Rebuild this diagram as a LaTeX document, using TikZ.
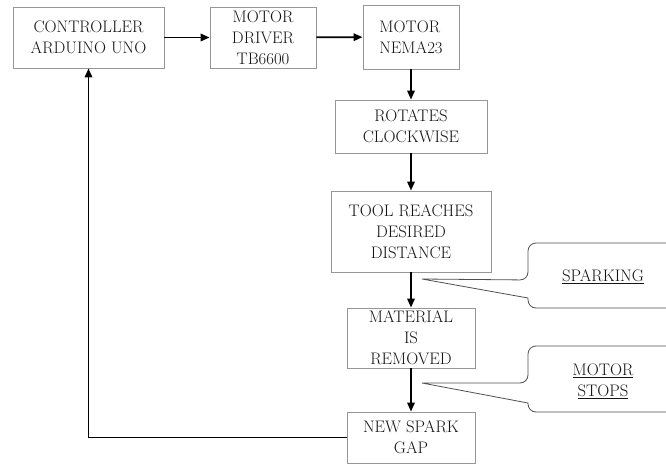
\documentclass[tikz,border=0pt]{standalone}
\usepackage{xcolor}
\usetikzlibrary{arrows.meta, positioning}
\definecolor{boxgray}{RGB}{150,150,150}
\definecolor{inkdark}{RGB}{20,20,20}

\begin{document}
\begin{tikzpicture}[x=1pt, y=-1pt, font={\fontsize{16.7}{21}\selectfont}, text=inkdark,
  box/.style={draw=boxgray, line width=0.9pt, inner sep=2pt, align=center},
  arr/.style={-{Triangle[length=9pt, width=7.5pt]}, line width=1.8pt},
  callout/.style={draw=inkdark!75, line width=0.8pt, rounded corners=8pt}]
  \clip (0,0) rectangle (666,465);
  \node[box, minimum width=151pt, minimum height=61pt] (ctrl) at (88.5,37.5) {CONTROLLER\\ARDUINO UNO};
  \node[box, minimum width=106pt, minimum height=61pt] (drv)  at (263,37.5)  {MOTOR\\DRIVER\\TB6600};
  \node[box, minimum width=96pt,  minimum height=64pt, align=left] (mot) at (411,37) {MOTOR\\NEMA23};
  \node[box, minimum width=152pt, minimum height=53pt] (rot)  at (411,126.5) {ROTATES\\CLOCKWISE};
  \node[box, minimum width=160pt, minimum height=81pt] (tool) at (411,231.5) {TOOL REACHES\\DESIRED\\DISTANCE};
  \node[box, minimum width=128pt, minimum height=60pt] (mat)  at (411,338)   {MATERIAL\\IS\\REMOVED};
  \node[box, minimum width=128pt, minimum height=51pt] (gap)  at (411,437.5) {NEW SPARK\\GAP};
  \draw[arr] (ctrl) -- (drv); \draw[arr] (drv) -- (mot);
  \draw[arr] (mot) -- (rot); \draw[arr] (rot) -- (tool);
  \draw[arr] (tool) -- (mat); \draw[arr] (mat) -- (gap);
  \draw[arr] (gap.west) -| (ctrl.south);
  % callouts
  \coordinate (sparktip) at (422,279);
  \coordinate (stoptip)  at (422,383);
  \draw[callout] (700,243) -- (528,243) -- (528,280) [sharp corners] -- (sparktip) -- (528,298) [rounded corners=8pt] -- (528,308) -- (700,308);
  \draw[callout] (700,346) -- (528,346) -- (528,383) [sharp corners] -- (stoptip) -- (528,403) [rounded corners=8pt] -- (528,412) -- (700,412);
  \node (spark) at (603,277) {\underline{SPARKING}};
  \node[align=center] (stops) at (603,381) {\underline{MOTOR}\\\underline{STOPS}};
\end{tikzpicture}
\end{document}
